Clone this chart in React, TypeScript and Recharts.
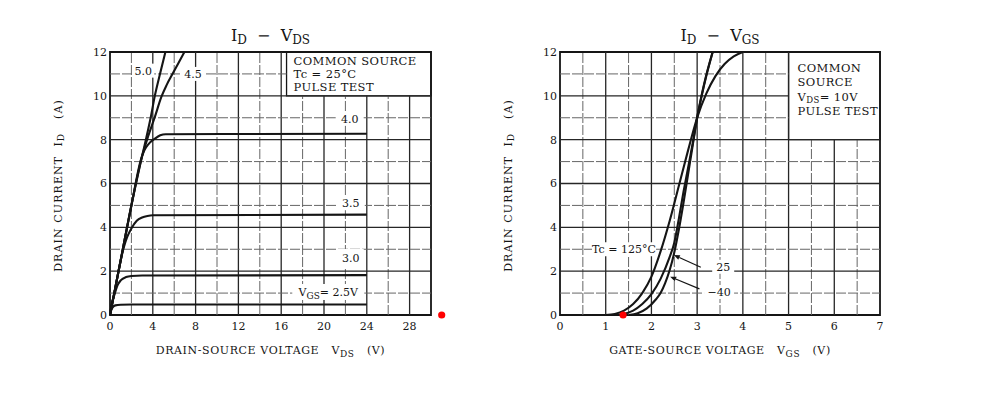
import React from 'react';
import { ComposedChart, Line, XAxis, YAxis, ReferenceLine, ReferenceArea, ReferenceDot } from 'recharts';

type P = { v: number; i: number };

// ---------- tick labels ----------
const vdsTicks = [0, 4, 8, 12, 16, 20, 24, 28];
const idTicks = [0, 2, 4, 6, 8, 10, 12];
const vgsTicks = [0, 1, 2, 3, 4, 5, 6, 7];

// ---------- ID – VDS curves (v = VDS [V], i = ID [A]) ----------
const vgs2p5: P[] = [
  { v: 0, i: 0 }, { v: 0.1, i: 0.2 }, { v: 0.25, i: 0.35 }, { v: 0.5, i: 0.44 }, { v: 1, i: 0.47 },
  { v: 2, i: 0.48 }, { v: 24, i: 0.48 },
];
const vgs3p0: P[] = [
  { v: 0, i: 0 }, { v: 0.1, i: 0.35 }, { v: 0.2, i: 0.6 }, { v: 0.4, i: 0.9 }, { v: 0.7, i: 1.35 },
  { v: 1.0, i: 1.58 }, { v: 1.5, i: 1.73 }, { v: 2, i: 1.78 }, { v: 3, i: 1.8 }, { v: 24, i: 1.82 },
];
const vgs3p5: P[] = [
  { v: 0, i: 0 }, { v: 0.5, i: 1.25 }, { v: 1.0, i: 2.5 }, { v: 1.3, i: 3.1 }, { v: 1.6, i: 3.55 },
  { v: 2.0, i: 3.95 }, { v: 2.5, i: 4.3 }, { v: 3.0, i: 4.45 }, { v: 3.5, i: 4.52 }, { v: 4, i: 4.55 },
  { v: 24, i: 4.58 },
];
const vgs4p0: P[] = [
  { v: 0, i: 0 }, { v: 1, i: 2.5 }, { v: 2, i: 5 }, { v: 2.9, i: 7.1 }, { v: 3.2, i: 7.5 },
  { v: 3.6, i: 7.8 }, { v: 4.2, i: 8.05 }, { v: 4.7, i: 8.2 }, { v: 5.2, i: 8.25 }, { v: 24, i: 8.27 },
];
const vgs4p5: P[] = [
  { v: 0, i: 0 }, { v: 1, i: 2.5 }, { v: 2, i: 5 }, { v: 3.0, i: 7.25 }, { v: 3.6, i: 8.2 },
  { v: 4.2, i: 9.05 }, { v: 4.8, i: 9.95 }, { v: 5.3, i: 10.5 }, { v: 5.9, i: 11.05 }, { v: 6.4, i: 11.5 },
  { v: 6.95, i: 12 },
];
const vgs5p0: P[] = [
  { v: 0, i: 0 }, { v: 1, i: 2.5 }, { v: 2, i: 5 }, { v: 3.0, i: 7.25 }, { v: 3.4, i: 8.1 },
  { v: 3.8, i: 9.0 }, { v: 4.19, i: 10 }, { v: 4.7, i: 11.05 }, { v: 5.18, i: 12 },
];

// ---------- ID – VGS curves (v = VGS [V], i = ID [A]) ----------
const tc125: P[] = [
  { v: 1.0, i: 0 }, { v: 1.2, i: 0.05 }, { v: 1.4, i: 0.2 }, { v: 1.6, i: 0.5 }, { v: 1.8, i: 1.0 },
  { v: 2.0, i: 1.75 }, { v: 2.2, i: 2.9 }, { v: 2.4, i: 4.3 }, { v: 2.6, i: 5.9 }, { v: 2.8, i: 7.5 },
  { v: 3.0, i: 9.0 }, { v: 3.2, i: 10.1 }, { v: 3.4, i: 10.9 }, { v: 3.6, i: 11.45 }, { v: 3.8, i: 11.8 },
  { v: 4.0, i: 12 },
];
const tc25: P[] = [
  { v: 1.2, i: 0 }, { v: 1.4, i: 0.05 }, { v: 1.6, i: 0.2 }, { v: 1.8, i: 0.5 }, { v: 2.0, i: 0.95 },
  { v: 2.2, i: 1.65 }, { v: 2.4, i: 2.65 }, { v: 2.5, i: 3.3 }, { v: 2.6, i: 4.4 }, { v: 2.7, i: 5.6 },
  { v: 2.8, i: 6.7 }, { v: 2.9, i: 7.8 }, { v: 3.0, i: 9.0 }, { v: 3.1, i: 10.0 }, { v: 3.2, i: 10.9 },
  { v: 3.34, i: 12 },
];
const tcMinus40: P[] = [
  { v: 1.5, i: 0 }, { v: 1.7, i: 0.08 }, { v: 1.9, i: 0.3 }, { v: 2.1, i: 0.72 }, { v: 2.2, i: 1.0 },
  { v: 2.3, i: 1.45 }, { v: 2.4, i: 2.05 }, { v: 2.5, i: 2.85 }, { v: 2.6, i: 3.9 }, { v: 2.7, i: 5.1 },
  { v: 2.8, i: 6.4 }, { v: 2.9, i: 7.7 }, { v: 3.0, i: 9.0 }, { v: 3.1, i: 10.05 }, { v: 3.2, i: 10.95 },
  { v: 3.34, i: 12 },
];

// ---------- styling ----------
const FONT = '"DejaVu Serif", "Liberation Serif", serif';
const INK = '#151515';
const MAJOR = { stroke: '#262626', strokeWidth: 1.3 };
const MINOR = { stroke: '#666', strokeWidth: 1, strokeDasharray: '10 2' };

const range = (a: number, b: number, s: number) => {
  const out: number[] = [];
  for (let k = a; k <= b + 1e-9; k += s) out.push(Math.round(k * 100) / 100);
  return out;
};

function gridLines(
  xMax: number, yMax: number, xStep: number, yStep: number,
  boxX: number, boxY: number,
  isMajorX: (v: number) => boolean, isMajorY: (v: number) => boolean,
) {
  const els: React.ReactNode[] = [];
  range(xStep, xMax - xStep, xStep).forEach((x) => {
    const top = x > boxX + 1e-9 ? boxY : yMax;
    els.push(
      <ReferenceLine key={'gx' + x} segment={[{ x, y: 0 }, { x, y: top }]} {...(isMajorX(x) ? MAJOR : MINOR)} />,
    );
  });
  range(yStep, yMax - yStep, yStep).forEach((y) => {
    const right = y > boxY + 1e-9 ? boxX : xMax;
    els.push(
      <ReferenceLine key={'gy' + y} segment={[{ x: 0, y }, { x: right, y }]} {...(isMajorY(y) ? MAJOR : MINOR)} />,
    );
  });
  return els;
}

const tag = (content: React.ReactNode, w: number, h = 14) => (p: any) => (
  <g>
    <rect x={p.cx - w / 2} y={p.cy - h / 2} width={w} height={h} fill="#fff" />
    <text x={p.cx} y={p.cy + 4} textAnchor="middle" fontFamily={FONT} fontSize={11} fill={INK}>
      {content}
    </text>
  </g>
);

const boxText = (lines: React.ReactNode[], dx: number, first: number, lh: number) => (props: any) => {
  const vb = props.viewBox || {};
  return (
    <text fontFamily={FONT} fontSize={11.5} letterSpacing={0.4} fill={INK}>
      {lines.map((l, k) => (
        <tspan key={k} x={vb.x + dx} y={vb.y + first + k * lh}>
          {l}
        </tspan>
      ))}
    </text>
  );
};

const arrowShape = (p: any) => {
  const { x1, y1, x2, y2 } = p;
  const ang = Math.atan2(y2 - y1, x2 - x1);
  const L = 6;
  const W = 2.5;
  const bx = x2 - L * Math.cos(ang);
  const by = y2 - L * Math.sin(ang);
  const px = -Math.sin(ang) * W;
  const py = Math.cos(ang) * W;
  return (
    <g>
      <line x1={x1} y1={y1} x2={bx} y2={by} stroke={INK} strokeWidth={1.2} />
      <polygon points={`${x2},${y2} ${bx + px},${by + py} ${bx - px},${by - py}`} fill={INK} />
    </g>
  );
};

const sp = '\u00a0';

const xLabel = (main: string, sub: string) => (props: any) => {
  const vb = props.viewBox || {};
  return (
    <text x={vb.x + vb.width / 2} y={vb.y + 39} textAnchor="middle" fontFamily={FONT} fontSize={11} letterSpacing={0.6} fill={INK}>
      {main}{sp + sp + sp}V<tspan fontSize={9} dy={3}>{sub}</tspan>
      <tspan dy={-3}>{sp + sp + sp}(V)</tspan>
    </text>
  );
};

const yLabel = (props: any) => {
  const vb = props.viewBox || {};
  const cx = vb.x + vb.width - 52;
  const cy = vb.y + vb.height / 2 + 2;
  return (
    <text x={cx} y={cy} transform={`rotate(-90, ${cx}, ${cy})`} textAnchor="middle" dominantBaseline="central"
      fontFamily={FONT} fontSize={11} letterSpacing={1.1} fill={INK}>
      DRAIN CURRENT{sp + sp}I<tspan fontSize={9} dy={3}>D</tspan>
      <tspan dy={-3}>{sp + sp + sp}(A)</tspan>
    </text>
  );
};

const tickStyle = { fontFamily: FONT, fontSize: 11, fill: INK };
const lineProps = { type: 'monotone' as const, dataKey: 'i', stroke: INK, strokeWidth: 2.1, dot: false, isAnimationActive: false, activeDot: false };

function VdsChart() {
  return (
    <ComposedChart width={470} height={395} margin={{ top: 52, right: 39, bottom: 50, left: 50 }}>
      <XAxis type="number" dataKey="v" domain={[0, 30]} ticks={vdsTicks} interval={0} tickLine={false} axisLine={false}
        tickSize={0} tickMargin={7} tick={tickStyle} height={30} label={xLabel('DRAIN-SOURCE VOLTAGE', 'DS')} />
      <YAxis type="number" domain={[0, 12]} ticks={idTicks} interval={0} tickLine={false} axisLine={false}
        tickSize={0} tickMargin={3} tick={tickStyle} width={60} label={yLabel} />
      {gridLines(30, 12, 2, 1, 16.5, 10, (x) => x % 4 === 0, (y) => y % 2 === 0)}
      <ReferenceArea x1={16.5} x2={30} y1={10} y2={12} fill="#fff" fillOpacity={1} stroke={INK} strokeWidth={1.3}
        label={boxText(['COMMON SOURCE', 'Tc = 25°C', 'PULSE TEST'], 7, 12.5, 13.4)} />
      <ReferenceArea x1={0} x2={30} y1={0} y2={12} fill="none" fillOpacity={0} stroke={INK} strokeWidth={1.8} />
      <Line data={vgs2p5} {...lineProps} />
      <Line data={vgs3p0} {...lineProps} />
      <Line data={vgs3p5} {...lineProps} />
      <Line data={vgs4p0} {...lineProps} />
      <Line data={vgs4p5} {...lineProps} />
      <Line data={vgs5p0} {...lineProps} />
      <ReferenceDot x={3.1} y={11.15} r={0} shape={tag('5.0', 22)} />
      <ReferenceDot x={7.75} y={11.0} r={0} shape={tag('4.5', 24)} />
      <ReferenceDot x={22.4} y={8.95} r={0} shape={tag('4.0', 28)} />
      <ReferenceDot x={22.5} y={5.1} r={0} shape={tag('3.5', 28)} />
      <ReferenceDot x={22.5} y={2.6} r={0} shape={tag('3.0', 26, 18)} />
      <ReferenceDot x={20.4} y={1.05} r={0}
        shape={tag(<>V<tspan fontSize={9} dy={3}>GS</tspan><tspan dy={-3}>= 2.5V</tspan></>, 72, 16)} />
      <ReferenceDot x={31} y={0} r={3.6} fill="#ff0000" stroke="none" ifOverflow="visible" />
    </ComposedChart>
  );
}

function VgsChart() {
  return (
    <ComposedChart width={523} height={395} margin={{ top: 52, right: 113, bottom: 50, left: 30 }}>
      <XAxis type="number" dataKey="v" domain={[0, 7]} ticks={vgsTicks} interval={0} tickLine={false} axisLine={false}
        tickSize={0} tickMargin={7} tick={tickStyle} height={30} label={xLabel('GATE-SOURCE VOLTAGE', 'GS')} />
      <YAxis type="number" domain={[0, 12]} ticks={idTicks} interval={0} tickLine={false} axisLine={false}
        tickSize={0} tickMargin={3} tick={tickStyle} width={60} label={yLabel} />
      {gridLines(7, 12, 0.5, 1, 5, 8, (x) => Number.isInteger(x), (y) => y % 2 === 0)}
      <ReferenceArea x1={5} x2={7} y1={8} y2={12} fill="#fff" fillOpacity={1} stroke={INK} strokeWidth={1.3}
        label={boxText(['COMMON', 'SOURCE',
          <>V<tspan fontSize={8.5} dy={2}>DS</tspan><tspan dy={-2}>= 10V</tspan></>, 'PULSE TEST'], 9, 20, 14.3)} />
      <ReferenceArea x1={0} x2={7} y1={0} y2={12} fill="none" fillOpacity={0} stroke={INK} strokeWidth={1.8} />
      <Line data={tc125} {...lineProps} />
      <Line data={tc25} {...lineProps} />
      <Line data={tcMinus40} {...lineProps} />
      <ReferenceLine segment={[{ x: 3.08, y: 2.18 }, { x: 2.49, y: 2.74 }]} shape={arrowShape} />
      <ReferenceLine segment={[{ x: 3.05, y: 1.19 }, { x: 2.41, y: 1.75 }]} shape={arrowShape} />
      <ReferenceDot x={1.4} y={3.0} r={0} shape={tag('Tc = 125°C', 64, 14)} />
      <ReferenceDot x={3.57} y={2.2} r={0} shape={tag('25', 22, 14)} />
      <ReferenceDot x={3.48} y={1.05} r={0} shape={tag('\u221240', 30, 14)} />
      <ReferenceDot x={1.38} y={0} r={3.6} fill="#ff0000" stroke="none" ifOverflow="visible" />
    </ComposedChart>
  );
}

function Title({ cx, a, b }: { cx: number; a: string; b: string }) {
  return (
    <text x={cx} y={41} textAnchor="middle" fontFamily={FONT} fontSize={16} fill={INK}>
      I<tspan fontSize={12} dy={3}>D</tspan>
      <tspan dy={-3}>{sp + sp}{'\u2212'}{sp + sp}{a}</tspan>
      <tspan fontSize={12} dy={3}>{b}</tspan>
    </text>
  );
}

export default function App() {
  return (
    <div style={{ position: 'absolute', left: 0, top: 0, width: 993, height: 395, background: '#fff', overflow: 'hidden' }}>
      <div style={{ position: 'absolute', left: 0, top: 0 }}>
        <VdsChart />
      </div>
      <div style={{ position: 'absolute', left: 470, top: 0 }}>
        <VgsChart />
      </div>
      <svg width={993} height={395} style={{ position: 'absolute', left: 0, top: 0, pointerEvents: 'none' }}>
        <Title cx={270.5} a="V" b="DS" />
        <Title cx={720} a="V" b="GS" />
      </svg>
    </div>
  );
}
